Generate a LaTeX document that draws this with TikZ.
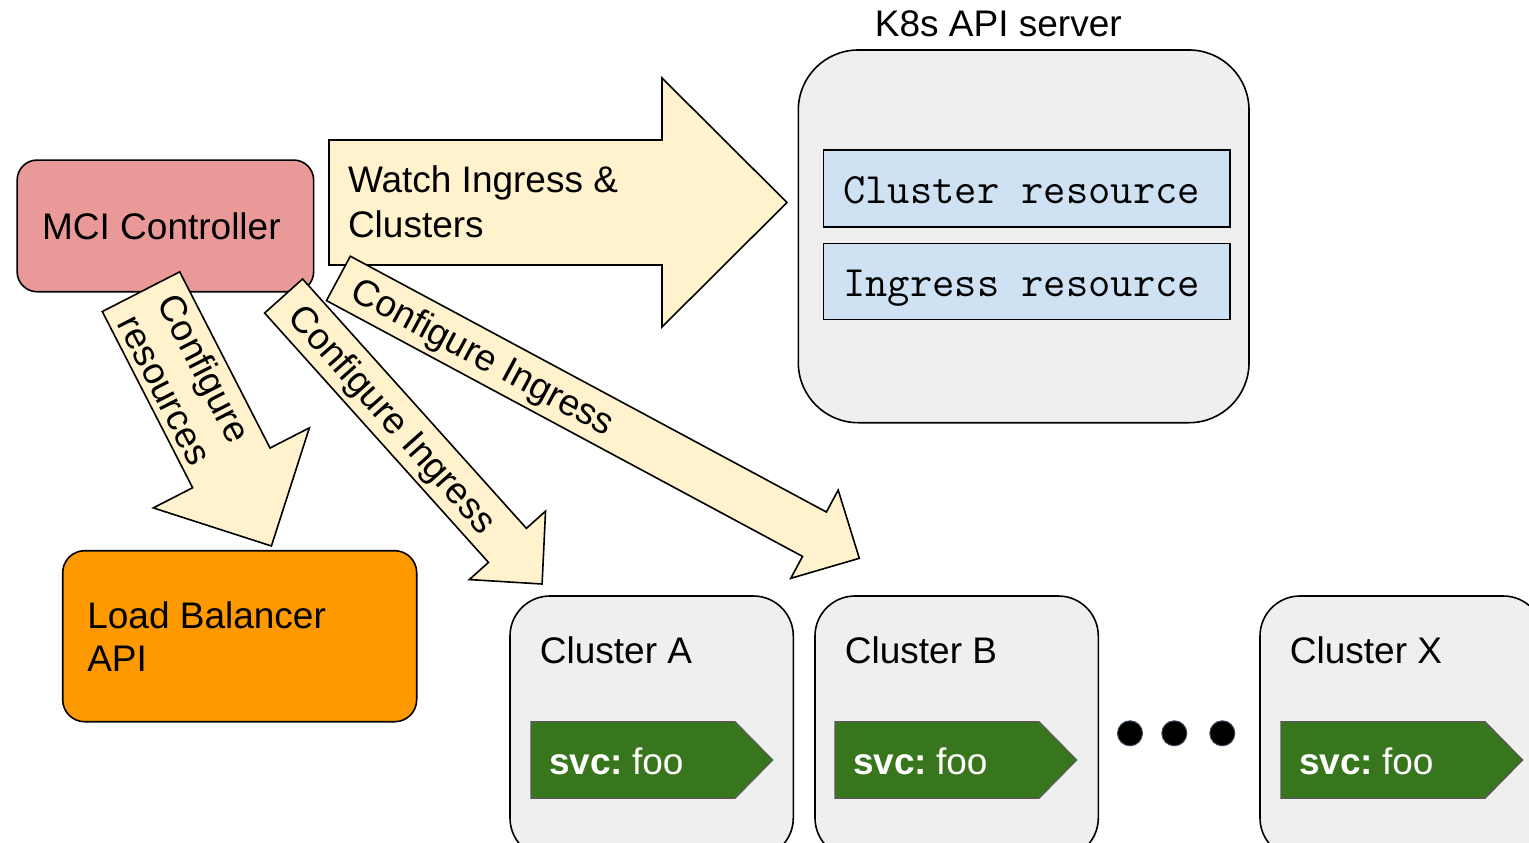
\documentclass[tikz,border=0pt]{standalone}
\usepackage{fontspec}
\setmainfont{Liberation Sans}
\usetikzlibrary{calc}
\definecolor{mcired}{HTML}{EA9999}
\definecolor{arrowfill}{HTML}{FFF2CC}
\definecolor{lborange}{HTML}{FF9900}
\definecolor{boxgray}{HTML}{EFEFEF}
\definecolor{resblue}{HTML}{CFE2F3}
\definecolor{svcgreen}{HTML}{38761D}
\definecolor{svcedge}{HTML}{595959}
\definecolor{dotedge}{HTML}{3C4858}
\tikzset{
  bigarrow/.style={draw=black, line width=1.6pt, fill=arrowfill, line join=miter, miter limit=10},
  box/.style={draw=black, line width=1.6pt, inner sep=0pt, outer sep=0pt},
  txt/.style={font=\fontsize{37}{45}\selectfont, inner sep=0pt, outer sep=0pt, text=black},
  monotxt/.style={font=\ttfamily\fontsize{43.3}{50}\selectfont, text height=31pt, text depth=0pt},
  svcshape/.style={draw=svcedge, line width=1.2pt, fill=svcgreen, line join=miter},
  dotnode/.style={circle, fill=black, draw=dotedge, line width=1pt, minimum size=25pt, inner sep=0pt},
}
% #1 start, #2 tip, #3 half shaft width, #4 half head width, #5 head length
\newcommand{\blockarrow}[5]{%
  \path ($(#2)!#5!(#1)$) coordinate (#2-base);
  \draw[bigarrow] ($(#1)!#3!90:(#2)$) -- ($(#2-base)!#3!90:(#2)$) -- ($(#2-base)!#4!90:(#2)$) -- (#2)
     -- ($(#2-base)!#4!-90:(#2)$) -- ($(#2-base)!#3!-90:(#2)$) -- ($(#1)!#3!-90:(#2)$) -- cycle;
}
\begin{document}
\begin{tikzpicture}[x=1pt,y=-1pt]
\useasboundingbox (0,0) rectangle (1529,843);
\clip (0,0) rectangle (1529,843);

% MCI controller
\node[box, fill=mcired, rounded corners=20pt, minimum width=296.5pt, minimum height=131.7pt, txt, draw=black]
  (mci) at (165.4,225.9) {MCI Controller\kern8pt};

% K8s API server
\node[txt, anchor=base] (k8stitle) at (998.3,36.7) {K8s API server};
\node[box, fill=boxgray, rounded corners=60pt, minimum width=450.7pt, minimum height=372.7pt]
  (k8s) at (1023.65,236.35) {};
\node[box, fill=resblue, minimum width=406.7pt, minimum height=76.7pt, monotxt]
  (clres) at (1026.65,188.35) {Cluster resource\kern10pt};
\node[box, fill=resblue, minimum width=406.7pt, minimum height=76pt, monotxt]
  (ingres) at (1026.65,281.3) {Ingress resource\kern10pt};

% Load balancer
\node[box, fill=lborange, rounded corners=22pt, minimum width=354pt, minimum height=171pt]
  (lb) at (239.7,636.2) {};
\node[txt, font=\fontsize{37}{43.5}\selectfont, anchor=base west, align=left]
  (lbtext) at (87.3,671.8) {Load Balancer\\API};

% Clusters
\node[box, fill=boxgray, rounded corners=40pt, minimum width=283.3pt, minimum height=262pt] (ca) at (651.65,727) {};
\node[box, fill=boxgray, rounded corners=40pt, minimum width=283.3pt, minimum height=262pt] (cb) at (956.65,727) {};
\node[box, fill=boxgray, rounded corners=40pt, minimum width=283.3pt, minimum height=262pt] (cx) at (1401.65,727) {};
\node[txt, anchor=base west] (catitle) at (539.9,663.3) {Cluster A};
\node[txt, anchor=base west] (cbtitle) at (844.9,663.3) {Cluster B};
\node[txt, anchor=base west] (cxtitle) at (1289.9,663.3) {Cluster X};

\foreach \dx in {0, 304, 750}{
  \draw[svcshape, xshift=\dx pt] (531,721.7) -- (735,721.7) -- (772.7,760) -- (735,798.3) -- (531,798.3) -- cycle;
}
\node[txt, text=white, anchor=base west] (svca) at (549,774.3) {\textbf{svc:}\hspace{9pt}foo};
\node[txt, text=white, anchor=base west] (svcb) at (853,774.3) {\textbf{svc:}\hspace{9pt}foo};
\node[txt, text=white, anchor=base west] (svcx) at (1299,774.3) {\textbf{svc:}\hspace{9pt}foo};

% dots
\node[dotnode] (d1) at (1130,733.3) {};
\node[dotnode] (d2) at (1174.3,733.3) {};
\node[dotnode] (d3) at (1222.3,733.3) {};

% Watch arrow
\coordinate (a4s) at (329,202.5);
\coordinate (a4t) at (787,202.5);
\blockarrow{a4s}{a4t}{62.5pt}{124.5pt}{125pt}
\node[txt, anchor=base west, align=left] (a4text) at (348,237.5) {Watch Ingress \&\\Clusters};

% Configure resources
\coordinate (a1s) at (141,291.7);
\coordinate (a1t) at (271.4,546);
\blockarrow{a1s}{a1t}{43.5pt}{87.7pt}{87.8pt}
\node[txt, rotate=-62.87, align=left] (a1text) at (185.5,379.5) {Configure\\resources};

% Configure Ingress -> Cluster A
\coordinate (a2s) at (283.6,296);
\coordinate (a2t) at (542.1,584);
\blockarrow{a2s}{a2t}{25.5pt}{51.2pt}{51.9pt}
\node[txt, rotate=-48.24] (a2text) at (391,420.7) {Configure Ingress};

% Configure Ingress -> Cluster B
\coordinate (a3s) at (338.4,278.4);
\coordinate (a3t) at (859.3,558.3);
\blockarrow{a3s}{a3t}{25.2pt}{50.1pt}{50.9pt}
\node[txt, rotate=-28.25] (a3text) at (481.9,358.9) {Configure Ingress};
\end{tikzpicture}
\end{document}
